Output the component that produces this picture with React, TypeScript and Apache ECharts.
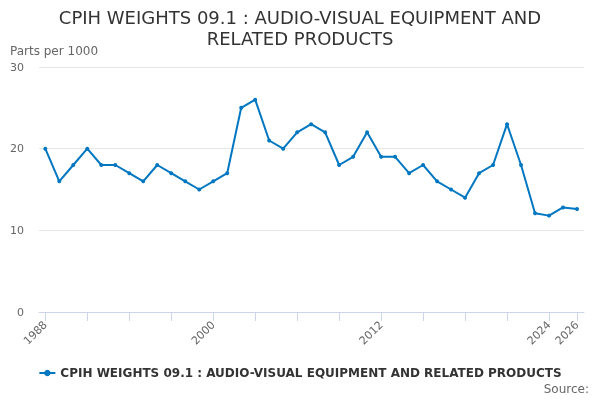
import React, { useEffect, useRef } from "react";
import * as echarts from "echarts";

const years: number[] = [
  1988, 1989, 1990, 1991, 1992, 1993, 1994, 1995, 1996, 1997, 1998, 1999, 2000,
  2001, 2002, 2003, 2004, 2005, 2006, 2007, 2008, 2009, 2010, 2011, 2012, 2013,
  2014, 2015, 2016, 2017, 2018, 2019, 2020, 2021, 2022, 2023, 2024, 2025, 2026,
];
const weights: number[] = [
  20, 16, 18, 20, 18, 18, 17, 16, 18, 17, 16, 15, 16,
  17, 25, 26, 21, 20, 22, 23, 22, 18, 19, 22, 19, 19,
  17, 18, 16, 15, 14, 17, 18, 23, 18, 12.1, 11.8, 12.8, 12.6,
];
const tickYears: number[] = [
  1988, 1991, 1994, 1997, 2000, 2003, 2006, 2009, 2012, 2015, 2018, 2021, 2024, 2026,
];
const labelYears: number[] = [1988, 2000, 2012, 2024, 2026];
const yTicks: number[] = [0, 10, 20, 30];

const TITLE = "CPIH WEIGHTS 09.1 : AUDIO-VISUAL EQUIPMENT AND\nRELATED PRODUCTS";
const SERIES_NAME = "CPIH WEIGHTS 09.1 : AUDIO-VISUAL EQUIPMENT AND RELATED PRODUCTS";
const FONT = "DejaVu Sans";

export default function App() {
  const ref = useRef<HTMLDivElement>(null);
  useEffect(() => {
    if (!ref.current) return;
    const chart = echarts.init(ref.current, undefined, { renderer: "svg" });
    chart.setOption({
      animation: false,
      textStyle: { fontFamily: FONT },
      title: {
        text: TITLE,
        left: "center",
        top: 2,
        textStyle: {
          fontFamily: FONT,
          fontSize: 18,
          fontWeight: "normal",
          color: "#333333",
          lineHeight: 21,
        },
      },
      grid: { left: 39, right: 16, top: 67, bottom: 88, containLabel: false },
      xAxis: {
        type: "value",
        min: 1987.55,
        max: 2026.5,
        axisLine: { show: true, lineStyle: { color: "#ccd6eb", width: 1 } },
        axisTick: {
          show: true,
          length: 9,
          lineStyle: { color: "#ccd6eb" },
          customValues: tickYears,
        },
        axisLabel: {
          customValues: labelYears,
          rotate: 45,
          color: "#666666",
          fontSize: 11,
          fontFamily: FONT,
          margin: 11,
          formatter: (v: number) => String(v),
        },
        splitLine: { show: false },
      },
      yAxis: {
        type: "value",
        min: 0,
        max: 30,
        interval: 10,
        axisLine: { show: false },
        axisTick: { show: false },
        axisLabel: {
          customValues: yTicks,
          color: "#666666",
          fontSize: 11,
          fontFamily: FONT,
          margin: 15,
        },
        splitLine: { lineStyle: { color: "#e6e6e6", width: 1 } },
      },
      legend: {
        bottom: 16,
        left: "center",
        itemWidth: 16,
        itemHeight: 8,
        textStyle: {
          fontFamily: FONT,
          fontSize: 12,
          fontWeight: "bold",
          color: "#333333",
        },
        data: [SERIES_NAME],
      },
      graphic: [
        {
          type: "text",
          left: 10,
          top: 45,
          style: {
            text: "Parts per 1000",
            fill: "#666666",
            fontSize: 12,
            fontFamily: FONT,
          },
        },
        {
          type: "text",
          right: 11,
          top: 383,
          style: {
            text: "Source:",
            fill: "#666666",
            fontSize: 12,
            fontFamily: FONT,
          },
        },
      ],
      series: [
        {
          name: SERIES_NAME,
          type: "line",
          data: years.map((y, i) => [y, weights[i]]),
          symbol: "circle",
          symbolSize: 4,
          lineStyle: { color: "#0077c0", width: 2 },
          itemStyle: { color: "#0077c0" },
        },
      ],
    });
    return () => chart.dispose();
  }, []);
  return (
    <div
      ref={ref}
      style={{ position: "fixed", left: 0, top: 0, width: 600, height: 400 }}
    />
  );
}
